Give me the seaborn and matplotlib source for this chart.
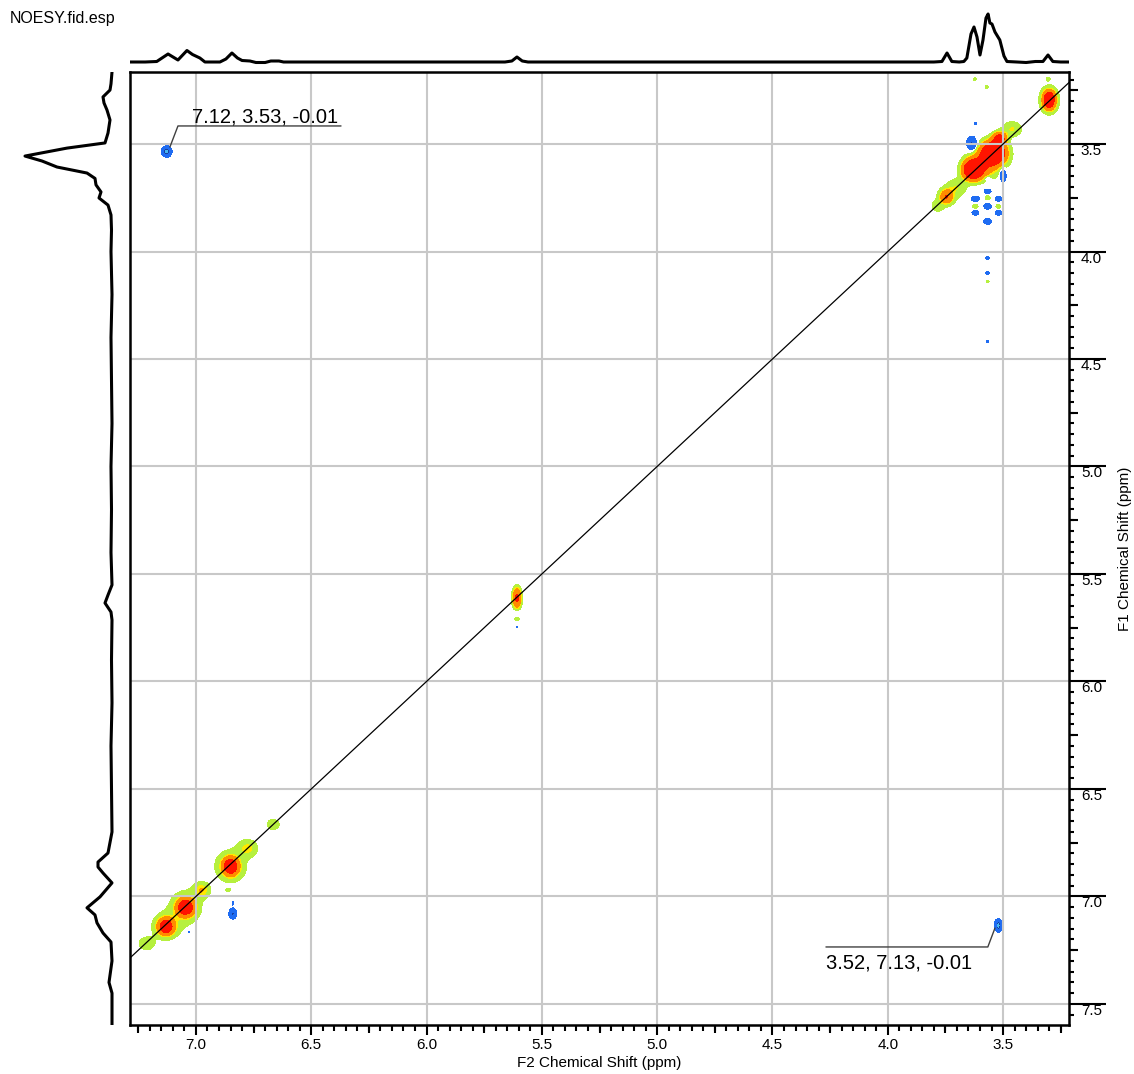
import numpy as np
import matplotlib
matplotlib.use("Agg")
import matplotlib.pyplot as plt
from matplotlib.ticker import MultipleLocator
import seaborn as sns

sns.set_theme(style="ticks")
plt.rcParams["font.family"] = ["Liberation Sans", "DejaVu Sans"]
plt.rcParams["text.color"] = "black"
plt.rcParams["axes.labelcolor"] = "black"

# ==========================================
# Data
# ==========================================

f2_lim = (7.286, 3.214)   # F2 axis (left -> right)
f1_lim = (3.165, 7.598)   # F1 axis (top -> bottom)

# 1D projection on top (F2 ppm, intensity)
top_ppm = [7.286, 7.22, 7.17, 7.121, 7.078, 7.039, 7.015, 6.983, 6.961, 6.896,
           6.870, 6.844, 6.820, 6.80, 6.766, 6.74, 6.70, 6.675, 6.64, 6.62,
           5.66, 5.630, 5.608, 5.585, 5.56, 3.80, 3.765, 3.743, 3.722, 3.690,
           3.670, 3.657, 3.639, 3.626, 3.613, 3.600, 3.587, 3.574, 3.565, 3.557,
           3.548, 3.535, 3.514, 3.496, 3.483, 3.44, 3.40, 3.36, 3.327, 3.305,
           3.284, 3.25, 3.214]
top_int = [0, 0, 0.5, 8, 2, 11.5, 7.5, 4, 0, 0,
           3, 9, 4, 1.5, 1, -0.5, -0.5, 1, 1, 0,
           0, 1, 5, 1, 0, 0, 0.5, 9, 0.5, 0,
           0.5, 4, 28, 35, 25, 7, 22, 44, 48, 39,
           38, 30, 22, 6, 0.5, 0, -0.5, 0.5, 0.5, 7,
           0.5, 0, 0]

# 1D projection on the left (F1 ppm, intensity)
left_ppm = [3.165, 3.22, 3.249, 3.281, 3.309, 3.342, 3.388, 3.449, 3.495, 3.519,
            3.556, 3.579, 3.607, 3.635, 3.66, 3.69, 3.723, 3.751, 3.784, 3.83,
            3.9, 4.0, 4.2, 4.4, 4.6, 4.8, 5.0, 5.2, 5.4, 5.551,
            5.598, 5.635, 5.677, 5.714, 5.9, 6.1, 6.3, 6.5, 6.7, 6.798,
            6.840, 6.863, 6.891, 6.937, 7.002, 7.053, 7.086, 7.123, 7.170, 7.212,
            7.30, 7.40, 7.45, 7.598]
left_int = [0, 1, 2, 9, 8, 5, 2, 4, 7, 45,
            87, 70, 55, 25, 17, 16, 11, 13, 4, 1,
            0.5, 1, 0, 1, 0.5, 0, 1, 0.5, 1, 0,
            4, 7, 1, 0, 0.5, 0, 1, 0.5, 0, 4,
            14, 14, 9, 0, 12, 25, 17, 15, 9, 1,
            0, 3, 0, 0]

# 2D peaks: F2, F1, width F2, width F1, amplitude
peak_f2 = [3.300, 3.300, 3.540, 3.630, 3.515, 3.580, 3.460, 3.560, 3.745, 3.700,
           3.785, 3.745, 5.608, 6.665, 6.775, 6.850, 6.850, 6.975, 7.045, 7.045,
           7.130, 7.130, 7.215, 6.860, 5.608, 3.567, 3.620, 3.520, 3.567, 3.622,
           3.570, 3.305,
           7.127, 3.520, 3.635, 3.500, 6.840, 6.840, 7.030, 5.608, 5.608, 3.567,
           3.567, 3.620, 3.520, 3.567, 3.620, 3.520, 3.567, 3.567, 3.567, 3.567,
           3.620]
peak_f1 = [3.295, 3.295, 3.540, 3.620, 3.475, 3.585, 3.430, 3.570, 3.745, 3.700,
           3.790, 3.745, 5.612, 6.665, 6.775, 6.860, 6.860, 6.970, 7.050, 7.050,
           7.140, 7.140, 7.220, 6.970, 5.710, 3.750, 3.790, 3.790, 4.140, 3.198,
           3.235, 3.198,
           3.535, 7.135, 3.500, 3.645, 7.080, 7.030, 7.165, 5.677, 5.747, 3.660,
           3.720, 3.755, 3.755, 3.790, 3.820, 3.820, 3.860, 4.030, 4.100, 4.420,
           3.405]
peak_w2 = [0.016, 0.035, 0.030, 0.027, 0.018, 0.035, 0.030, 0.070, 0.017, 0.030,
           0.018, 0.040, 0.012, 0.022, 0.030, 0.020, 0.050, 0.025, 0.022, 0.050,
           0.020, 0.045, 0.025, 0.008, 0.009, 0.010, 0.011, 0.010, 0.007, 0.007,
           0.007, 0.007,
           0.013, 0.010, 0.016, 0.010, 0.011, 0.003, 0.004, 0.009, 0.005, 0.009,
           0.011, 0.012, 0.011, 0.011, 0.011, 0.011, 0.011, 0.007, 0.007, 0.005,
           0.007]
peak_w1 = [0.026, 0.050, 0.030, 0.028, 0.018, 0.035, 0.025, 0.070, 0.020, 0.028,
           0.018, 0.040, 0.032, 0.020, 0.028, 0.024, 0.055, 0.025, 0.024, 0.055,
           0.022, 0.045, 0.022, 0.006, 0.006, 0.008, 0.008, 0.008, 0.006, 0.007,
           0.007, 0.007,
           0.015, 0.018, 0.025, 0.022, 0.016, 0.012, 0.010, 0.006, 0.005, 0.007,
           0.008, 0.009, 0.008, 0.009, 0.008, 0.008, 0.009, 0.005, 0.006, 0.005,
           0.007]
peak_amp = [14, 1.8, 20, 18, 10, 5, 2.4, 1.8, 6, 2.0,
            1.8, 1.2, 8, 2.0, 2.6, 12, 2.5, 3.0, 12, 2.5,
            11, 2.4, 2.2, 1.6, 1.7, 1.8, 1.8, 1.8, 1.6, 1.6,
            1.6, 1.6,
            -5, -5, -4, -4, -3.5, -1.4, -1.6, -1.8, -1.4, -2.5,
            -3, -3, -2.5, -3, -2.5, -2.5, -3, -2, -2, -1.8,
            -1.5]

pos_levels = [1, 2.4, 3.2, 7, 200]
pos_colors = ["#b6f03e", "#ffe800", "#ff8c00", "#ff1400"]
neg_levels = [-200, -3.8, -3.0, -1]
neg_colors = ["#45b6f2", "#173f9e", "#1f6cf2"]

grid_color = "#c8c8c8"

# ==========================================
# Figure layout (pixels)
# ==========================================

W, H = 1134, 1074
fig = plt.figure(figsize=(W / 100, H / 100), dpi=100)


def px_axes(x0, y0, x1, y1):
    return fig.add_axes([x0 / W, 1 - y1 / H, (x1 - x0) / W, (y1 - y0) / H])


ax = px_axes(130, 72, 1069, 1025)
ax_top = px_axes(130, 0, 1069, 72)
ax_left = px_axes(0, 72, 130, 1025)

# ==========================================
# 2D spectrum
# ==========================================

g2 = np.linspace(f2_lim[1], f2_lim[0], 1100)
g1 = np.linspace(f1_lim[0], f1_lim[1], 1100)
X, Y = np.meshgrid(g2, g1)
Z = np.zeros_like(X)
for x0, y0, s2, s1, a in zip(peak_f2, peak_f1, peak_w2, peak_w1, peak_amp):
    Z += a * np.exp(-((X - x0) ** 2 / (2 * s2 ** 2) + (Y - y0) ** 2 / (2 * s1 ** 2)))

ax.contourf(X, Y, Z, levels=pos_levels, colors=pos_colors, zorder=1)
ax.contourf(X, Y, Z, levels=neg_levels, colors=neg_colors, zorder=1)

# diagonal
sns.lineplot(x=list(f2_lim), y=list(f2_lim), ax=ax, color="black",
             linewidth=0.9, sort=False, estimator=None, zorder=4)

ax.set_xlim(f2_lim)
ax.set_ylim(f1_lim[1], f1_lim[0])

ax.set_axisbelow(False)
ax.grid(True, which="major", color=grid_color, linewidth=1.5, zorder=2)

for sp in ax.spines.values():
    sp.set_visible(True)
    sp.set_color("black")
    sp.set_linewidth(1.8)
    sp.set_zorder(5)

# x ticks
ax.xaxis.set_major_locator(MultipleLocator(0.5))
ax.xaxis.set_minor_locator(MultipleLocator(0.05))
ax.tick_params(axis="x", which="major", bottom=True, top=False, direction="out",
               length=7.2, width=1.5, color="black", labelsize=11, pad=2,
               labelcolor="black")
ax.tick_params(axis="x", which="minor", bottom=True, top=False, direction="out",
               length=4.3, width=1.5, color="black")

# y ticks on the right
ax.yaxis.set_major_locator(MultipleLocator(0.5))
ax.yaxis.set_minor_locator(MultipleLocator(0.05))
ax.yaxis.tick_right()
ax.yaxis.set_label_position("right")
ax.tick_params(axis="y", which="major", right=True, left=False, direction="out",
               length=26.6, width=1.5, color="black", labelsize=11, pad=-18,
               labelcolor="black", labelright=True, labelleft=False)
ax.tick_params(axis="y", which="minor", right=True, left=False, direction="out",
               length=3.6, width=1.5, color="black")
ax.set_yticks(np.arange(3.5, 7.51, 0.5))
for lab in ax.get_yticklabels():
    lab.set_verticalalignment("top")

# medium ticks at 0.25
sec_x = ax.secondary_xaxis("bottom")
sec_x.set_xticks(np.arange(3.25, 7.3, 0.5))
sec_x.tick_params(axis="x", length=5.4, width=1.5, color="black", labelbottom=False,
                  bottom=True, direction="out")
sec_x.spines["bottom"].set_visible(False)

sec_y = ax.secondary_yaxis("right")
sec_y.set_yticks(np.arange(3.25, 7.6, 0.5))
sec_y.tick_params(axis="y", length=6.5, width=1.5, color="black", labelright=False,
                  right=True, direction="out")
sec_y.spines["right"].set_visible(False)

ax.set_xlabel("F2 Chemical Shift (ppm)", fontsize=11, labelpad=3)
ax.set_ylabel("F1 Chemical Shift (ppm)", fontsize=11, labelpad=9)

# peak labels
ax.plot([7.113, 7.078, 6.371], [3.514, 3.416, 3.416], color="#404040", lw=1.0, zorder=4)
ax.text(7.017, 3.402, "7.12, 3.53, -0.01", fontsize=14.5, ha="left", va="baseline", zorder=4)
ax.plot([3.535, 3.566, 4.268], [7.147, 7.235, 7.235], color="#404040", lw=1.0, zorder=4)
ax.text(4.268, 7.337, "3.52, 7.13, -0.01", fontsize=14.5, ha="left", va="baseline", zorder=4)

# ==========================================
# Projections
# ==========================================

sns.lineplot(x=top_ppm, y=top_int, ax=ax_top, color="black", linewidth=2.2,
             sort=False, estimator=None)
ax_top.set_xlim(f2_lim)
ax_top.set_ylim(-10, 62)
ax_top.axis("off")

sns.lineplot(x=left_int, y=left_ppm, ax=ax_left, color="black", linewidth=2.2,
             sort=False, estimator=None)
ax_left.set_xlim(112, -18)
ax_left.set_ylim(f1_lim[1], f1_lim[0])
ax_left.axis("off")

fig.text(10 / W, 1 - 18 / H, "NOESY.fid.esp", fontsize=11.5, ha="left", va="center")

fig.savefig("out.png", dpi=100)
